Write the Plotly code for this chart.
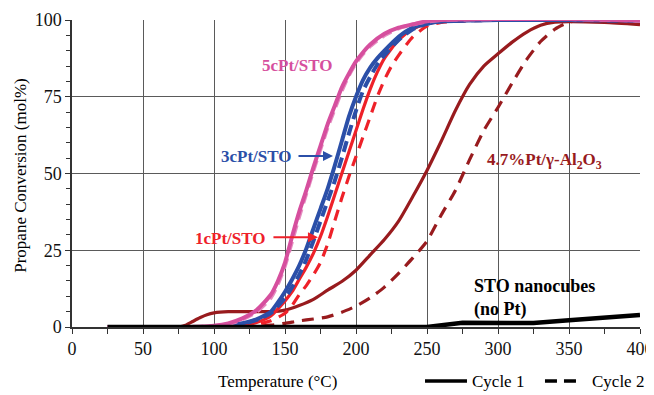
import plotly.graph_objects as go

# ---------------- data ----------------
pink_c1_T = [25, 50, 75, 90, 100, 110, 120, 130, 140, 145, 150, 155, 160, 165, 170, 175, 180, 185, 190, 195, 200, 205, 210, 220, 230, 240, 250, 260, 300, 350, 400]
pink_c1_y = [0, 0, 0, 0.1, 0.4, 1.2, 2.8, 5.5, 10.5, 15, 21, 29.5, 37.5, 44.5, 52, 59, 66, 72, 78, 82.5, 86.5, 89.5, 92, 95.5, 97.5, 98.6, 99.6, 100, 100.3, 100.3, 99.8]
pink_c2_T = [25, 50, 75, 90, 100, 110, 120, 130, 140, 145, 150, 155, 160, 165, 170, 175, 180, 185, 190, 195, 200, 205, 210, 220, 230, 240, 250, 260, 300, 350, 400]
pink_c2_y = [0, 0, 0, 0.1, 0.3, 1.0, 2.5, 5.0, 9.5, 14, 20, 28, 36, 43.5, 51, 58, 65, 71, 77, 82, 86, 89, 91.5, 95, 97.3, 98.5, 99.5, 100, 100.3, 100.3, 99.8]

blue_c1_T = [100, 110, 120, 130, 140, 145, 150, 155, 160, 165, 170, 175, 180, 185, 190, 195, 200, 205, 210, 215, 220, 230, 240, 250, 260, 300, 350, 400]
blue_c1_y = [0, 0.4, 1.2, 2.5, 5, 8, 11.5, 15.5, 20, 25.5, 32, 38.5, 45, 52.5, 60.5, 68.5, 75, 80.5, 84.5, 87.5, 90, 94.5, 97.5, 98.8, 99.5, 100, 100, 99.8]
blue_c2_T = [100, 110, 120, 130, 140, 150, 155, 160, 165, 170, 175, 180, 185, 190, 195, 200, 205, 210, 215, 220, 230, 240, 250, 260, 300, 400]
blue_c2_y = [0, 0.3, 1, 2.3, 4.5, 9.5, 13, 17, 22, 28, 34.5, 41, 47.5, 55, 63, 70.5, 77, 81.5, 85.5, 88.5, 93.5, 97, 98.8, 99.6, 100, 99.8]

red_c1_T = [110, 120, 130, 140, 150, 155, 160, 165, 170, 175, 180, 185, 190, 195, 200, 205, 210, 215, 220, 230, 240, 250, 260, 300, 400]
red_c1_y = [0, 0.5, 1.5, 3.6, 8.5, 11.5, 15.5, 19.5, 24, 29.5, 36, 43, 50, 57, 64, 71, 77.5, 83, 87.5, 93.5, 97, 98.8, 99.5, 100, 99.8]
red_c2_T = [120, 130, 140, 150, 155, 160, 165, 170, 175, 180, 185, 190, 195, 200, 205, 210, 215, 220, 225, 230, 240, 250, 260, 300, 400]
red_c2_y = [0, 0.8, 2, 4.5, 7, 10.5, 13.5, 17, 21, 27, 34.5, 42, 49, 55.5, 62, 68.5, 75, 80.5, 85, 88.5, 94.5, 98, 99.2, 100, 100]

alu_c1_T = [75, 80, 85, 90, 95, 100, 110, 120, 130, 140, 150, 160, 170, 180, 190, 200, 210, 220, 230, 240, 250, 260, 270, 280, 290, 300, 310, 320, 330, 340, 350, 375, 400]
alu_c1_y = [0, 0.6, 1.8, 3, 4, 4.6, 5, 5, 5, 5, 5.5, 7, 9, 12, 14.8, 18.5, 23.5, 28.5, 34.5, 42.5, 51, 60.5, 70.5, 79, 85, 89, 92.8, 96, 98.3, 99.3, 99.5, 99.2, 98.5]
alu_c2_T = [120, 130, 140, 150, 160, 170, 180, 190, 200, 210, 220, 230, 240, 250, 260, 270, 280, 290, 300, 310, 320, 330, 340, 350, 360, 400]
alu_c2_y = [0, 0.3, 0.6, 1.2, 2, 2.6, 3.3, 4.8, 6.8, 9.5, 13, 17.5, 22.5, 28, 36.5, 44.5, 54.5, 64, 71.5, 79.5, 87, 93, 97, 99.3, 100, 100]

sto_T = [25, 250, 275, 300, 325, 350, 375, 400]
sto_y = [0, 0, 1.4, 1.2, 1.3, 2.2, 3, 3.9]

x_ticks = [0, 50, 100, 150, 200, 250, 300, 350, 400]
y_ticks = [0, 25, 50, 75, 100]
legend_names = ["Cycle 1", "Cycle 2"]

PINK = "#D64F9E"
BLUE = "#2B4FA8"
RED = "#EE2129"
MAROON = "#981B1E"
SERIF = "Times New Roman, Liberation Serif, serif"

fig = go.Figure()

def add(x, y, color, width, dash="solid", shape="spline"):
    fig.add_trace(go.Scatter(x=x, y=y, mode="lines", showlegend=False, cliponaxis=False,
                             line=dict(color=color, width=width, dash=dash, shape=shape,
                                       smoothing=0.6 if shape == "spline" else None),
                             hoverinfo="skip"))

add(alu_c2_T, alu_c2_y, MAROON, 3.2, "12px,8px")
add(alu_c1_T, alu_c1_y, MAROON, 3.2)
add(red_c2_T, red_c2_y, RED, 3.2, "11px,8px")
add(red_c1_T, red_c1_y, RED, 3.2)
add(blue_c2_T, blue_c2_y, BLUE, 4, "11px,6px")
add(blue_c1_T, blue_c1_y, BLUE, 4)
add(pink_c2_T, pink_c2_y, "#E58CC0", 4, "11px,6px")
add(pink_c1_T, pink_c1_y, PINK, 4)
add(sto_T, sto_y, "black", 4.5, shape="linear")

ann = []
def label(text, x, y, color, size=17, **kw):
    ann.append(dict(x=x, y=y, xref="x", yref="y", text=text, showarrow=False,
                    font=dict(family=SERIF, size=size, color=color), **kw))

label("<b>5cPt/STO</b>", 158.5, 85.3, PINK)
label("<b>3cPt/STO</b>", 129.6, 55.7, BLUE)
label("<b>1cPt/STO</b>", 111.6, 28.7, RED)
label("<b>4.7%Pt/γ-Al<sub>2</sub>O<sub>3</sub></b>", 332.4, 54.0, MAROON)
label("<b>STO nanocubes<br>(no Pt)</b>", 281.5, 9.3, "black", size=18, xanchor="left", align="left")

# arrows
ann.append(dict(x=183.8, y=55.7, xref="x", yref="y", ax=-36, ay=0, text="", showarrow=True,
                arrowhead=2, arrowsize=1, arrowwidth=2, arrowcolor=BLUE))
ann.append(dict(x=173.2, y=29.2, xref="x", yref="y", ax=-46, ay=0, text="", showarrow=True,
                arrowhead=2, arrowsize=1, arrowwidth=2, arrowcolor=RED))

# axis titles
ann.append(dict(x=0.361, y=-0.176, xref="paper", yref="paper", text="Temperature (°C)",
                showarrow=False, font=dict(family=SERIF, size=17, color="black"), yanchor="middle"))
ann.append(dict(x=-0.092, y=0.495, xref="paper", yref="paper", text="Propane Conversion (mol%)",
                showarrow=False, textangle=-90, font=dict(family=SERIF, size=17, color="black"),
                xanchor="center", yanchor="middle"))

# hand-built legend (bottom right)
LEG_Y = -0.176
legend_items = [(0.6215, 0.6954, "solid", 0.7007), (0.8327, 0.8944, "12px,7px", 0.912)]
shapes = []
for (x0, x1, dash, xt), name in zip(legend_items, legend_names):
    shapes.append(dict(type="line", xref="paper", yref="paper", x0=x0, x1=x1, y0=LEG_Y, y1=LEG_Y,
                       line=dict(color="black", width=3.5, dash=dash)))
    ann.append(dict(x=xt, y=LEG_Y, xref="paper", yref="paper", text=name, showarrow=False,
                    xanchor="left", yanchor="middle", font=dict(family=SERIF, size=17, color="black")))

# page has an 8px body margin: plot area is placed at page x 72..640, y 20..327
fig.update_layout(
    width=646, height=387,
    margin=dict(l=64, r=14, t=12, b=68, autoexpand=False),
    paper_bgcolor="white", plot_bgcolor="white",
    font=dict(family=SERIF, size=17, color="black"),
    annotations=ann, shapes=shapes, showlegend=False,
    xaxis=dict(range=[0, 400], tickmode="array", tickvals=x_ticks, ticktext=[str(v) for v in x_ticks],
               showgrid=True, gridcolor="#5a5a5a", gridwidth=1.2, automargin=False,
               showline=True, linecolor="#333", linewidth=1.5,
               ticks="outside", ticklen=5, tickcolor="#333", zeroline=False,
               minor=dict(dtick=25, tick0=0, ticks="outside", ticklen=5, tickcolor="#333", showgrid=False),
               tickfont=dict(family=SERIF, size=18, color="#111")),
    yaxis=dict(range=[0, 100], tickmode="array", tickvals=y_ticks, ticktext=[str(v) for v in y_ticks],
               showgrid=True, gridcolor="#5a5a5a", gridwidth=1.2, automargin=False,
               showline=True, linecolor="#333", linewidth=1.5,
               ticks="outside", ticklen=5, tickcolor="#333", zeroline=False,
               minor=dict(dtick=5, tick0=0, ticks="outside", ticklen=4, tickcolor="#333", showgrid=False),
               tickfont=dict(family=SERIF, size=18, color="#111")),
)

fig.write_html("out.html")
